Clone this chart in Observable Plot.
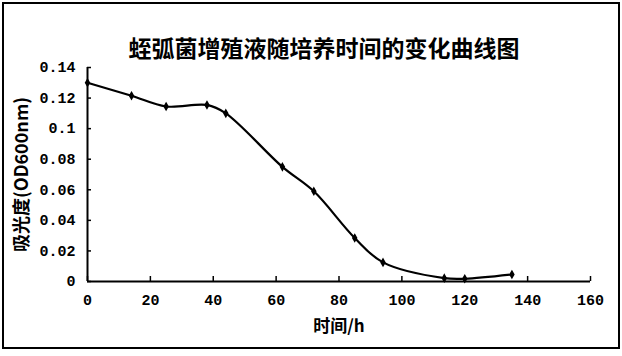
<!DOCTYPE html>
<html>
<head>
<meta charset="utf-8">
<script src="https://cdn.jsdelivr.net/npm/d3@7"></script>
<script src="https://cdn.jsdelivr.net/npm/@observablehq/plot@0.6"></script>
<style>
  body { margin: 0; background: #fff; }
  #wrap { position: relative; width: 622px; height: 356px; }
  #border { position: absolute; left: 2px; top: 2px; width: 614px; height: 343px; border: 2px solid #000; pointer-events: none; }
</style>
</head>
<body>
<div id="wrap"><div id="border"></div></div>
<script>
const title = "蛭弧菌增殖液随培养时间的变化曲线图";
const xLabel = "时间/h";
const yLabel = "吸光度(OD600nm)";
const hours = [0, 14, 25, 38, 44, 62, 72, 85, 94, 113.5, 120, 135];
const od = [0.130, 0.1215, 0.1145, 0.1155, 0.110, 0.075, 0.059, 0.0285, 0.0125, 0.0022, 0.0018, 0.0046];
const xTicks = [0, 20, 40, 60, 80, 100, 120, 140, 160];
const yTicks = [0, 0.02, 0.04, 0.06, 0.08, 0.1, 0.12, 0.14];

const data = hours.map((h, i) => ({h, v: od[i]}));
const tickFont = "'Liberation Mono', 'DejaVu Sans Mono', monospace";
const cjkFont = "'Noto Sans CJK SC', sans-serif";

const chart = Plot.plot({
  width: 622,
  height: 356,
  marginLeft: 87,
  marginRight: 32,
  marginTop: 67,
  marginBottom: 75,
  style: {fontFamily: tickFont, fontSize: "15px", color: "#000", background: "transparent"},
  x: {domain: [0, 160]},
  y: {domain: [0, 0.14]},
  marks: [
    Plot.axisX(xTicks, {tickSize: -5, tickPadding: 18, stroke: "#000", strokeWidth: 1.5, fontSize: 15,
      fontFamily: tickFont, fontWeight: "bold", label: null}),
    Plot.axisY(yTicks, {tickSize: -4, tickPadding: 16, stroke: "#000", strokeWidth: 1.5, fontSize: 15,
      fontFamily: tickFont, fontWeight: "bold", tickFormat: d => String(+d.toFixed(2)), label: null}),
    Plot.axisX({ticks: [], label: xLabel, labelAnchor: "center", labelArrow: "none", labelOffset: 50,
      fontFamily: cjkFont, fontSize: 17, fontWeight: "bold"}),
    Plot.axisY({ticks: [], label: yLabel, labelAnchor: "center", labelArrow: "none", labelOffset: 72,
      fontFamily: cjkFont, fontSize: 18, fontWeight: "bold"}),
    Plot.ruleX([0], {stroke: "#000", strokeWidth: 2}),
    Plot.ruleY([0], {stroke: "#000", strokeWidth: 2}),
    Plot.line(data, {x: "h", y: "v", curve: "catmull-rom", stroke: "#000", strokeWidth: 2.2}),
    Plot.dot(data, {x: "h", y: "v", symbol: "diamond", r: 2, fill: "#000", stroke: "#000"}),
    Plot.text([title], {frameAnchor: "top", dy: -27, dx: -15, text: d => d, fontSize: 23, fontWeight: "bold",
      fontFamily: cjkFont, fill: "#000"})
  ]
});
document.getElementById("wrap").prepend(chart);
chart.style.position = "absolute";
chart.style.left = "0px";
chart.style.top = "0px";
</script>
</body>
</html>
